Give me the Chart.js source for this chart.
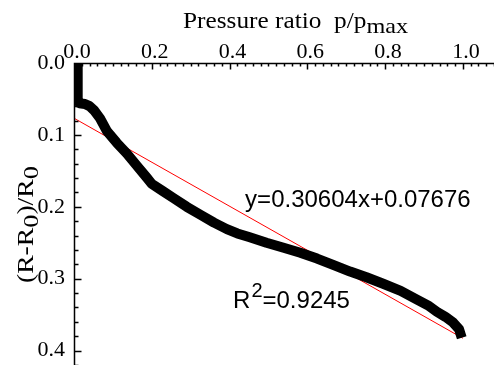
<!DOCTYPE html>
<html>
<head>
<meta charset="utf-8">
<script src="https://cdn.jsdelivr.net/npm/chart.js@4.4.0/dist/chart.umd.min.js"></script>
<style>
  html, body { margin: 0; padding: 0; background: #fff; }
</style>
</head>
<body>
<canvas id="sensorChart" width="494" height="365"></canvas>
<script>
const pressureRatio = [0.009, 0.009, 0.010, 0.014, 0.028, 0.040, 0.052, 0.067, 0.085, 0.110,
  0.136, 0.162, 0.188, 0.200, 0.228, 0.256, 0.290, 0.325, 0.360, 0.393,
  0.420, 0.450, 0.495, 0.539, 0.582, 0.625, 0.668, 0.710, 0.752, 0.795,
  0.840, 0.882, 0.910, 0.933, 0.955, 0.975, 0.990, 0.997];
const resistanceChange = [0.000, 0.030, 0.050, 0.056, 0.057, 0.060, 0.066, 0.077, 0.095, 0.111,
  0.126, 0.143, 0.160, 0.168, 0.178, 0.188, 0.200, 0.211, 0.222, 0.231,
  0.237, 0.242, 0.250, 0.257, 0.264, 0.272, 0.281, 0.290, 0.298, 0.307,
  0.317, 0.329, 0.337, 0.346, 0.353, 0.361, 0.370, 0.382];

// linear fit y = 0.30604x + 0.07676, end points
const fitX = [0, 1];
const fitY = [0.07676, 0.38280];

const xTicks = [0, 0.2, 0.4, 0.6, 0.8, 1.0];
const yTicks = [0, 0.1, 0.2, 0.3, 0.4];

const fitLabel = 'y=0.30604x+0.07676';
const r2Value = '=0.9245';
const fitLabelAt = [0.44, 0.200];
const r2LabelAt = [0.409, 0.3407];

const serif = '"Liberation Serif", "Times New Roman", serif';
const sans = '"Liberation Sans", Arial, sans-serif';

const toPoints = (xs, ys) => xs.map((x, i) => ({ x: x, y: ys[i] }));

// axis lines plus minor / major tick marks pointing into the plot
const tickMarks = {
  id: 'tickMarks',
  afterDraw(chart) {
    const c = chart.ctx;
    const area = chart.chartArea;
    const sx = chart.scales.x;
    const sy = chart.scales.y;
    const top = Math.round(area.top) + 0.5;
    const left = Math.round(area.left) + 0.5;
    c.save();
    c.strokeStyle = '#000';
    c.lineWidth = 1.5;
    c.beginPath();
    c.moveTo(left, area.bottom);
    c.lineTo(left, top);
    c.lineTo(area.right, top);
    for (let i = 0; i <= 54; i++) {
      const px = Math.round(sx.getPixelForValue(i * 0.02)) + 0.5;
      const len = i % 10 === 0 ? 6 : 3;
      c.moveTo(px, top);
      c.lineTo(px, top + len);
    }
    for (let i = 0; i <= 21; i++) {
      const py = Math.round(sy.getPixelForValue(i * 0.02)) + 0.5;
      const len = i % 5 === 0 ? 7 : 4;
      c.moveTo(left, py);
      c.lineTo(left + len, py);
    }
    c.stroke();
    c.restore();
  }
};

// axis titles and fit annotations (with sub/superscripts)
const labels = {
  id: 'labels',
  afterDraw(chart) {
    const c = chart.ctx;
    const sx = chart.scales.x;
    const sy = chart.scales.y;
    c.save();
    c.fillStyle = '#000';
    c.textBaseline = 'alphabetic';
    c.textAlign = 'left';

    // top axis title (slightly wide glyphs as in the original)
    c.save();
    c.translate(183, 28);
    c.scale(1.1, 1);
    c.font = '23px ' + serif;
    const t1 = 'Pressure ratio  p/p';
    c.fillText(t1, 0, 0);
    const w1 = c.measureText(t1).width;
    c.font = '22px ' + serif;
    c.fillText('max', w1, 5);
    c.restore();

    // left axis title, rotated
    c.save();
    c.translate(33, 283);
    c.rotate(-Math.PI / 2);
    c.scale(1.2, 1);
    const parts = [['(R-R', 23, 0], ['0', 22, 5], [')/R', 23, 0], ['0', 22, 5]];
    let ox = 0;
    parts.forEach(([s, size, dy]) => {
      c.font = size + 'px ' + serif;
      c.fillText(s, ox, dy);
      ox += c.measureText(s).width;
    });
    c.restore();

    // fit equation
    c.font = '24px ' + sans;
    c.fillText(fitLabel, sx.getPixelForValue(fitLabelAt[0]), sy.getPixelForValue(fitLabelAt[1]));

    // R^2
    let rx = sx.getPixelForValue(r2LabelAt[0]);
    const ry = sy.getPixelForValue(r2LabelAt[1]);
    c.fillText('R', rx, ry);
    rx += c.measureText('R').width + 1;
    c.font = '20px ' + sans;
    c.fillText('2', rx, ry - 11);
    rx += c.measureText('2').width;
    c.font = '24px ' + sans;
    c.fillText(r2Value, rx, ry);
    c.restore();
  }
};

const ctx = document.getElementById('sensorChart').getContext('2d');
const chart = new Chart(ctx, {
  type: 'scatter',
  data: {
    datasets: [{
      label: 'measured',
      data: toPoints(pressureRatio, resistanceChange),
      showLine: true,
      borderColor: '#000',
      borderWidth: 10,
      borderJoinStyle: 'round',
      borderCapStyle: 'butt',
      pointRadius: 0,
      tension: 0
    }, {
      label: 'fit',
      data: toPoints(fitX, fitY),
      showLine: true,
      borderColor: '#ff0000',
      borderWidth: 1,
      pointRadius: 0,
      tension: 0
    }]
  },
  options: {
    responsive: false,
    animation: false,
    devicePixelRatio: 1,
    layout: { padding: 0, autoPadding: false },
    plugins: {
      legend: { display: false },
      tooltip: { enabled: false }
    },
    scales: {
      x: {
        type: 'linear',
        position: 'top',
        min: 0,
        max: 1.08,
        grid: { display: false, drawTicks: false },
        border: { display: false },
        afterBuildTicks: s => { s.ticks = xTicks.map(v => ({ value: v })); },
        ticks: {
          color: '#000',
          padding: -2,
          labelOffset: 3,
          maxRotation: 0,
          autoSkip: false,
          font: { family: serif, size: 22 },
          callback: v => v.toFixed(1)
        },
        afterFit: s => { s.height = 63; s.paddingLeft = 0; s.paddingRight = 0; }
      },
      y: {
        type: 'linear',
        reverse: true,
        min: 0,
        max: 0.42,
        grid: { display: false, drawTicks: false },
        border: { display: false },
        afterBuildTicks: s => { s.ticks = yTicks.map(v => ({ value: v })); },
        ticks: {
          color: '#000',
          padding: 9,
          autoSkip: false,
          font: { family: serif, size: 22 },
          callback: v => v.toFixed(1)
        },
        afterFit: s => { s.width = 74; s.paddingTop = 0; s.paddingBottom = 0; }
      }
    }
  },
  plugins: [tickMarks, labels]
});
</script>
</body>
</html>
